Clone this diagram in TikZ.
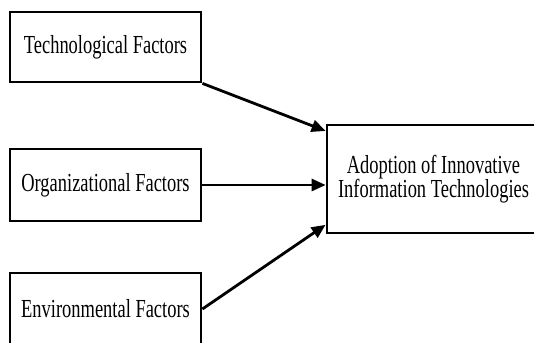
\documentclass[tikz,border=0pt]{standalone}
\usepackage{fontspec}
\setmainfont{Liberation Serif}
\usetikzlibrary{arrows.meta}
\newcommand{\sq}[1]{\scalebox{0.71}[1]{#1}}

\begin{document}
\begin{tikzpicture}[x=1pt,y=-1pt,
   factor/.style={draw,line width=2.8pt,minimum width=191pt,inner sep=0pt,
                  font=\fontsize{26}{24}\selectfont},
   link/.style={line width=2.8pt,-{Triangle[length=14pt,width=12pt]}}]
   \path[use as bounding box,clip] (0,0) rectangle (534,342);
   \node[factor,minimum height=70pt] (tech) at (105.5, 47) {\sq{Technological Factors}};
   \node[factor,minimum height=72pt] (org)  at (105.5,185) {\sq{Organizational Factors}};
   \node[factor,minimum height=72pt] (env)  at (105.5,309) {\sq{Environmental Factors}};
   \node[factor,minimum width=213pt,minimum height=108pt,align=center] (adopt) at (433.5,179)
        {\sq{Adoption of Innovative}\\\sq{Information Technologies}};
   \draw[link] (tech.south east) -- (adopt.156);
   \draw[link] (org.east) -- (org.east -| adopt.west);
   \draw[link] (env.east) -- (adopt.203);
\end{tikzpicture}
\end{document}
